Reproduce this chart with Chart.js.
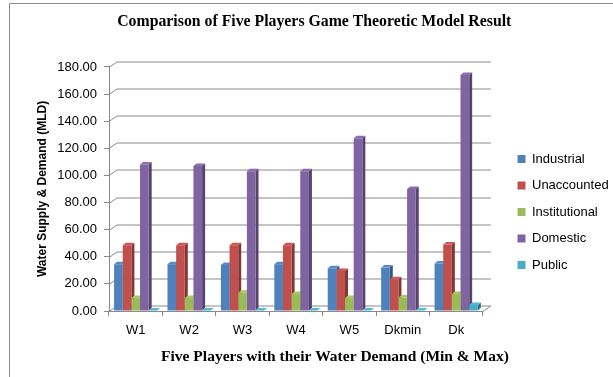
<!DOCTYPE html>
<html>
<head>
<meta charset="utf-8">
<title>Comparison of Five Players Game Theoretic Model Result</title>
<script src="https://cdn.jsdelivr.net/npm/chart.js@4.4.1/dist/chart.umd.min.js"></script>
<style>
  html, body { margin: 0; padding: 0; background: #fff; }
  #wrap { width: 613px; height: 377px; position: relative; }
</style>
</head>
<body>
<div id="wrap"><canvas id="gameChart"></canvas></div>
<script>
// Chart data
const categories = ['W1', 'W2', 'W3', 'W4', 'W5', 'Dkmin', 'Dk'];
const industrial = [34.5, 34.5, 34, 34.5, 31.5, 32, 35];
const unaccounted = [48.5, 48.5, 48.5, 48.5, 29.5, 23.5, 49];
const institutional = [9.5, 9.5, 13.5, 12.5, 9.5, 10, 12.5];
const domestic = [108, 107, 103, 103, 127.5, 90, 174];
const publicUse = [0.3, 0.3, 0.3, 0.3, 0.3, 0.3, 4.5];

const seriesNames = ['Industrial', 'Unaccounted', 'Institutional', 'Domestic', 'Public'];
const seriesColors = ['#4F81BD', '#C0504D', '#9BBB59', '#8064A2', '#4BACC6'];

const gridColor = '#8a8a8a';
const depth = { wallX: 8, wallY: 5.5, barX: 3, barY: 2.5 };

function shade(hex, f) {
    const n = parseInt(hex.slice(1), 16);
    const c = [(n >> 16) & 255, (n >> 8) & 255, n & 255].map(v => Math.max(0, Math.min(255, Math.round(v * f))));
    return 'rgb(' + c.join(',') + ')';
}

// white background + the thin frame around the picture
const frame = {
    id: 'frame',
    beforeDraw(chart) {
        const ctx = chart.ctx;
        ctx.save();
        ctx.fillStyle = '#fff';
        ctx.fillRect(0, 0, chart.width, chart.height);
        ctx.strokeStyle = '#8c8c8c';
        ctx.lineWidth = 1;
        ctx.beginPath();
        ctx.moveTo(9.5, chart.height);
        ctx.lineTo(9.5, 3.5);
        ctx.lineTo(chart.width, 3.5);
        ctx.stroke();
        ctx.restore();
    }
};

// back wall gridlines and the side / top faces of the columns
const threeD = {
    id: 'threeD',
    beforeDatasetsDraw(chart) {
        const ctx = chart.ctx;
        const a = chart.chartArea;
        const yScale = chart.scales.y;
        ctx.save();
        ctx.strokeStyle = gridColor;
        ctx.lineWidth = 1;
        yScale.ticks.forEach(t => {
            const py = Math.round(yScale.getPixelForValue(t.value)) + 0.5;
            ctx.beginPath();
            ctx.moveTo(a.left, py);
            ctx.lineTo(a.left + depth.wallX, py - depth.wallY);
            ctx.lineTo(a.right + depth.wallX, py - depth.wallY);
            if (t.value === 0) ctx.lineTo(a.right, py);
            ctx.stroke();
        });

        const metas = chart.data.datasets.map((ds, i) => chart.getDatasetMeta(i));
        categories.forEach((cat, j) => {
            metas.forEach((meta, i) => {
                const bar = meta.data[j];
                if (!bar) return;
                const p = bar.getProps(['x', 'y', 'base', 'width'], true);
                const l = p.x - p.width / 2, r = p.x + p.width / 2;
                const color = seriesColors[i];
                ctx.fillStyle = shade(color, 0.68);
                ctx.beginPath();
                ctx.moveTo(r, p.y);
                ctx.lineTo(r + depth.barX, p.y - depth.barY);
                ctx.lineTo(r + depth.barX, p.base - depth.barY);
                ctx.lineTo(r, p.base);
                ctx.closePath();
                ctx.fill();
                ctx.fillStyle = shade(color, 1.08);
                ctx.beginPath();
                ctx.moveTo(l, p.y);
                ctx.lineTo(l + depth.barX, p.y - depth.barY);
                ctx.lineTo(r + depth.barX, p.y - depth.barY);
                ctx.lineTo(r, p.y);
                ctx.closePath();
                ctx.fill();
            });
        });
        ctx.restore();
    }
};

// legend sits a bit further right / lower than chart.js puts it
const placeLegend = {
    id: 'placeLegend',
    afterLayout(chart) {
        const lg = chart.legend;
        const w = lg.width, h = lg.height;
        lg.left = 504;
        lg.right = 504 + w;
        lg.top = 139;
        lg.bottom = 139 + h;
    }
};

// x axis caption, centred where the original has it
const xCaption = {
    id: 'xCaption',
    afterDraw(chart) {
        const ctx = chart.ctx;
        ctx.save();
        ctx.font = 'bold 15.5px "Liberation Serif"';
        ctx.fillStyle = '#000';
        ctx.textAlign = 'center';
        ctx.textBaseline = 'middle';
        ctx.fillText('Five Players with their Water Demand (Min & Max)', 335, 357);
        ctx.restore();
    }
};

function initChart() {
    if (typeof Chart === 'undefined') {
        console.error('Chart.js is not loaded!');
        return;
    }
    Chart.defaults.font.family = '"Liberation Sans", Arial, sans-serif';
    Chart.defaults.color = '#000';

    const values = [industrial, unaccounted, institutional, domestic, publicUse];
    const datasets = seriesNames.map((name, i) => ({
        label: name,
        data: values[i],
        backgroundColor: seriesColors[i],
        borderWidth: 0,
        categoryPercentage: 0.81,
        barPercentage: 1.0
    }));

    new Chart(document.getElementById('gameChart'), {
        type: 'bar',
        data: { labels: categories, datasets: datasets },
        plugins: [frame, threeD, placeLegend, xCaption],
        options: {
            responsive: true,
            maintainAspectRatio: false,
            animation: false,
            layout: { padding: { left: 31, right: 15.5, top: 0, bottom: 0 } },
            scales: {
                x: {
                    grid: { drawOnChartArea: false, tickLength: 5, color: gridColor, offset: true },
                    border: { color: gridColor },
                    ticks: { font: { size: 13 }, color: '#000', padding: 7 },
                    afterFit(scale) { scale.height = 66; }
                },
                y: {
                    min: 0,
                    max: 180,
                    ticks: {
                        stepSize: 20,
                        font: { size: 13 },
                        color: '#000',
                        padding: 7,
                        callback: v => Number(v).toFixed(2)
                    },
                    grid: { drawOnChartArea: false, tickLength: 5, color: gridColor },
                    border: { color: gridColor },
                    title: {
                        display: true,
                        text: 'Water Supply & Demand (MLD)',
                        font: { size: 12, weight: 'bold' },
                        color: '#000',
                        padding: { top: 4, bottom: 0 }
                    },
                    afterFit(scale) { scale.width = 78; }
                }
            },
            plugins: {
                title: {
                    display: true,
                    text: 'Comparison of Five Players Game Theoretic Model Result',
                    font: { family: '"Liberation Serif", "Times New Roman", serif', size: 15.8, weight: 'bold' },
                    color: '#000',
                    padding: { top: 12, bottom: 36 }
                },
                legend: {
                    position: 'right',
                    align: 'start',
                    labels: {
                        boxWidth: 8,
                        boxHeight: 8,
                        padding: 13.5,
                        color: '#000',
                        font: { size: 13 }
                    }
                },
                tooltip: { enabled: false }
            }
        }
    });
}

document.addEventListener('DOMContentLoaded', initChart);
</script>
</body>
</html>
